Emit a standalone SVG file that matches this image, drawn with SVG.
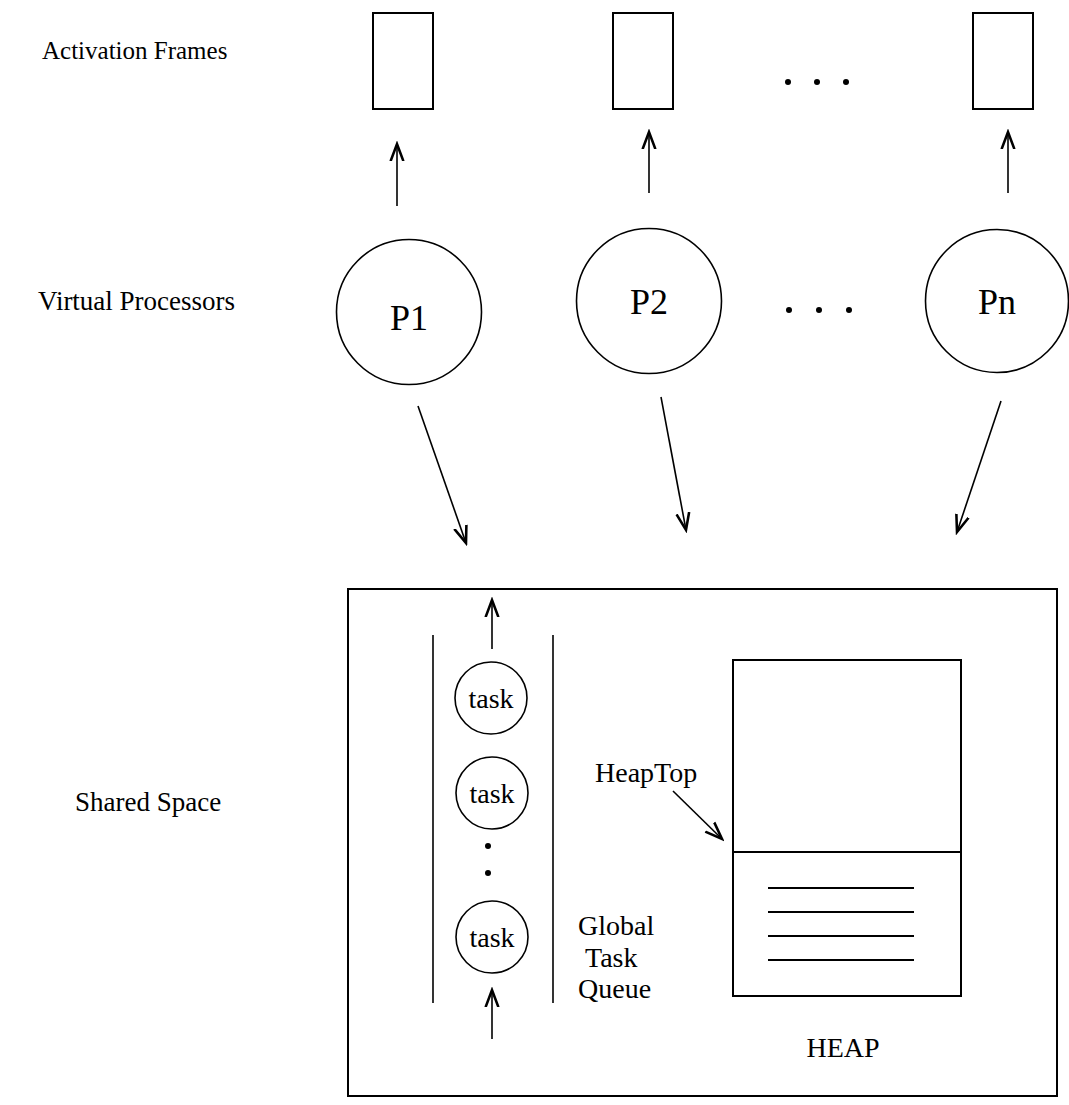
<svg xmlns="http://www.w3.org/2000/svg" width="1069" height="1105" viewBox="0 0 1069 1105">
<style>
text{font-family:"Liberation Serif","Times New Roman",serif;fill:#000}
.pt{font-size:36px;text-anchor:middle}
.tt{font-size:28px;text-anchor:middle}
.t28{font-size:28px}
.box{fill:none;stroke:#000;stroke-width:2}
.shape{fill:none;stroke:#000;stroke-width:1.6}
.conn{fill:none;stroke:#000;stroke-width:1.6;marker-end:url(#ah)}
.dot{fill:#000}
</style>
<defs>
<marker id="ah" markerUnits="userSpaceOnUse" markerWidth="20" markerHeight="20" viewBox="-12 -6 14 12" refX="0" refY="0" orient="auto">
<path d="M -12 -4.5 L 0 0 L -12 4.5" fill="none" stroke="#000" stroke-width="1.8"/>
</marker>
</defs>
<rect width="1069" height="1105" fill="#fff"/>
<g id="labels">
<text x="42" y="59" font-size="25">Activation Frames</text>
<text x="38" y="310" font-size="27">Virtual Processors</text>
<text x="75" y="811" font-size="27">Shared Space</text>
</g>
<g id="frame1"><rect class="box" x="373" y="13" width="60" height="96"/></g>
<g id="frame2"><rect class="box" x="613" y="13" width="60" height="96"/></g>
<g id="frame3"><rect class="box" x="973" y="13" width="60" height="96"/></g>
<g id="frame-dots"><circle class="dot" cx="788" cy="82" r="3"/><circle class="dot" cx="817" cy="82" r="3"/><circle class="dot" cx="846" cy="82" r="3"/></g>
<g id="P1"><circle class="shape" cx="409" cy="312" r="72.5"/><text class="pt" x="409" y="330">P1</text></g>
<g id="P2"><circle class="shape" cx="649" cy="301" r="72.5"/><text class="pt" x="649" y="314">P2</text></g>
<g id="Pn"><circle class="shape" cx="997" cy="301" r="71.5"/><text class="pt" x="997" y="314">Pn</text></g>
<g id="proc-dots"><circle class="dot" cx="789" cy="310" r="3"/><circle class="dot" cx="819" cy="310" r="3"/><circle class="dot" cx="849" cy="310" r="3"/></g>
<g id="shared-space">
<rect class="box" x="348" y="589" width="709" height="507"/>
</g>
<g id="queue">
<line class="shape" x1="433" y1="635" x2="433" y2="1003"/>
<line class="shape" x1="553" y1="635" x2="553" y2="1003"/>
<circle class="dot" cx="488" cy="846" r="3"/><circle class="dot" cx="488" cy="873" r="3"/>
<text class="t28" x="578" y="935">Global</text>
<text class="t28" x="585" y="967">Task</text>
<text class="t28" x="578" y="998">Queue</text>
</g>
<g id="task1"><circle class="shape" cx="491" cy="698" r="36"/><text class="tt" x="491" y="708">task</text></g>
<g id="task2"><circle class="shape" cx="492" cy="793" r="36"/><text class="tt" x="492" y="803">task</text></g>
<g id="task3"><circle class="shape" cx="492" cy="937" r="36"/><text class="tt" x="492" y="947">task</text></g>
<g id="heap">
<rect class="box" x="733" y="660" width="228" height="336"/>
<line class="box" x1="733" y1="852" x2="961" y2="852"/>
<line class="box" x1="768" y1="888" x2="914" y2="888"/>
<line class="box" x1="768" y1="912" x2="914" y2="912"/>
<line class="box" x1="768" y1="936" x2="914" y2="936"/>
<line class="box" x1="768" y1="960" x2="914" y2="960"/>
<text class="tt" x="843" y="1057">HEAP</text>
<text class="t28" x="595" y="782">HeapTop</text>
</g>
<g id="connectors">
<line class="conn" x1="397" y1="206" x2="397" y2="144"/>
<line class="conn" x1="649" y1="193" x2="649" y2="132"/>
<line class="conn" x1="1008" y1="193" x2="1008" y2="132"/>
<line class="conn" x1="418" y1="406" x2="466" y2="543"/>
<line class="conn" x1="661" y1="397" x2="686" y2="530"/>
<line class="conn" x1="1001" y1="401" x2="957" y2="532"/>
<line class="conn" x1="492" y1="649" x2="492" y2="600"/>
<line class="conn" x1="492" y1="1039" x2="492" y2="990"/>
<line class="conn" x1="673" y1="791" x2="722" y2="839"/>
</g>
</svg>
